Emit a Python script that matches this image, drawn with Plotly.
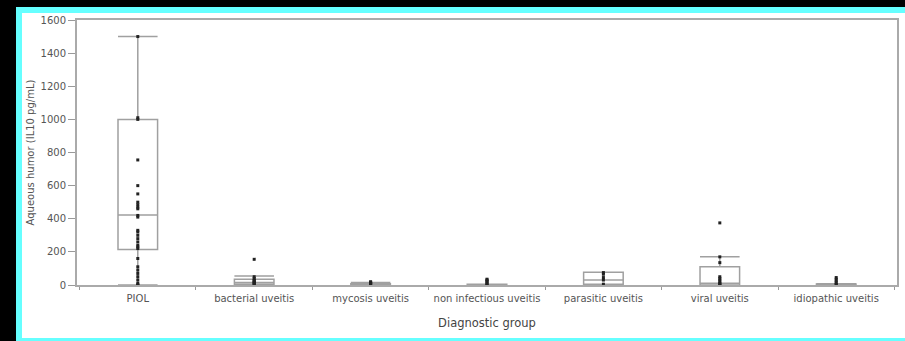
import plotly.graph_objects as go

categories = ["PIOL", "bacterial uveitis", "mycosis uveitis", "non infectious uveitis",
              "parasitic uveitis", "viral uveitis", "idiopathic uveitis"]

lower_fence = [0, 0, 0, 0, 0, 0, 0]
q1 = [215, 5, 0, 0, 5, 0, 0]
median = [423, 15, 3, 2, 30, 10, 3]
q3 = [1000, 35, 8, 5, 77, 110, 6]
upper_fence = [1500, 55, 15, 5, 77, 170, 8]

points = {
    "PIOL": [1500, 1010, 1000, 755, 600, 550, 500, 485, 470, 460, 420, 410, 330, 320,
             300, 280, 260, 240, 230, 220, 160, 110, 90, 70, 50, 30, 10, 0, 0],
    "bacterial uveitis": [155, 50, 40, 30, 25, 20, 15, 10, 5, 0],
    "mycosis uveitis": [20, 15, 12, 10, 5, 0],
    "non infectious uveitis": [35, 30, 25, 20, 10, 5, 0],
    "parasitic uveitis": [75, 65, 45, 30, 5],
    "viral uveitis": [375, 170, 135, 50, 40, 30, 20, 10, 5, 0],
    "idiopathic uveitis": [45, 35, 25, 15, 5, 0],
}

y_ticks = [0, 200, 400, 600, 800, 1000, 1200, 1400, 1600]

FONT = "DejaVu Sans"
fig = go.Figure()

fig.add_trace(go.Box(
    x=categories, q1=q1, median=median, q3=q3,
    lowerfence=lower_fence, upperfence=upper_fence,
    boxpoints=False, width=0.34, whiskerwidth=1,
    fillcolor="rgba(0,0,0,0)", line=dict(color="#a0a0a0", width=1.5),
    showlegend=False, hoverinfo="skip",
))

for cat in categories:
    vals = points[cat]
    fig.add_trace(go.Scatter(
        x=[cat] * len(vals), y=vals, mode="markers",
        marker=dict(color="#222222", size=3, symbol="square"),
        showlegend=False,
    ))

W, H = 905, 341
L, R, T, B = 77, 8, 20, 56
pw, ph = W - L - R, H - T - B

def px(xp):
    return (xp - L) / pw

def py(yp):
    return (H - B - yp) / ph

def frame_rect(x0, x1, y0, y1, color, layer="below"):
    fig.add_shape(type="rect", xref="paper", yref="paper",
                  x0=px(x0), x1=px(x1), y0=py(y1), y1=py(y0),
                  fillcolor=color, line=dict(width=0), layer=layer)

# black outer margin (left and top)
frame_rect(-5, 16, -5, 346, "black")
frame_rect(-5, 1000, -5, 7, "black")
# cyan border (left, top, bottom)
frame_rect(16, 22, 7, 346, "#66ffff")
frame_rect(16, 1000, 7, 13, "#66ffff")
frame_rect(16, 1000, 338, 346, "#66ffff")

fig.update_layout(
    width=W, height=H,
    margin=dict(l=L, r=R, t=T, b=B, autoexpand=False),
    paper_bgcolor="white",
    plot_bgcolor="white",
    font=dict(family=FONT, size=10, color="#555555"),
)

fig.update_xaxes(
    type="category", categoryorder="array", categoryarray=categories,
    tickson="boundaries", ticks="outside", ticklen=3, tickcolor="#999999",
    showline=True, mirror=True, linecolor="#aaaaaa", linewidth=2,
    showgrid=False, zeroline=False, ticklabelstandoff=3,
    tickangle=0, automargin=False,
    tickfont=dict(family=FONT, size=10, color="#555555"),
    title=dict(text="Diagnostic group", font=dict(family=FONT, size=11.5, color="#444444"),
               standoff=16),
)
fig.update_yaxes(
    range=[0, 1600], tickvals=y_ticks, ticktext=[str(v) for v in y_ticks],
    ticks="outside", ticklen=7, tickcolor="#999999",
    showline=True, mirror=True, linecolor="#aaaaaa", linewidth=2,
    showgrid=False, zeroline=False, automargin=False,
    tickfont=dict(family=FONT, size=10, color="#555555"),
    title=dict(text="Aqueous humor (IL10 pg/mL)",
               font=dict(family=FONT, size=10, color="#555555"), standoff=4),
)

fig.write_html(
    "out.html",
    config={"displayModeBar": False},
    post_script="document.body.style.margin='0';document.body.style.background='white';",
)
